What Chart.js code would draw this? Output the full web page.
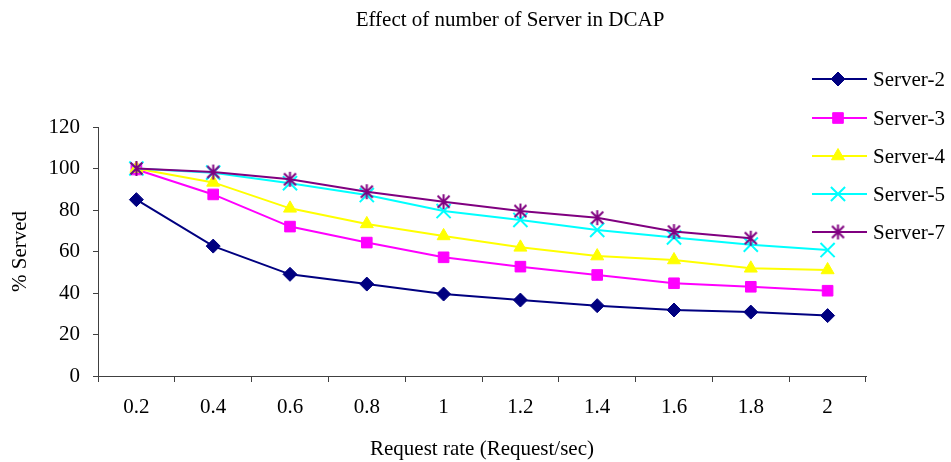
<!DOCTYPE html>
<html>
<head>
<meta charset="utf-8">
<script src="https://cdn.jsdelivr.net/npm/chart.js@4.4.0/dist/chart.umd.min.js"></script>
<style>
html,body{margin:0;padding:0;background:#ffffff;}
#wrap{width:951px;height:462px;position:relative;}
</style>
</head>
<body>
<div id="wrap"><canvas id="c" width="951" height="462"></canvas></div>
<script>
// ---- data ----
const categories = ['0.2', '0.4', '0.6', '0.8', '1', '1.2', '1.4', '1.6', '1.8', '2'];
const server2 = [85, 62.6, 49, 44.3, 39.5, 36.6, 33.9, 31.8, 30.8, 29.1];
const server3 = [99.5, 87.5, 72, 64.3, 57.2, 52.7, 48.7, 44.7, 43, 41.1];
const server4 = [100, 93.3, 80.8, 73.3, 67.5, 62, 57.8, 55.9, 51.9, 51.1];
const server5 = [100, 98, 92.9, 87.2, 79.5, 75.2, 70.4, 66.8, 63.3, 60.7];
const server7 = [100, 98.3, 94.8, 88.8, 84, 79.5, 76.3, 69.6, 66.4, null];
const seriesNames = ['Server-2', 'Server-3', 'Server-4', 'Server-5', 'Server-7'];
const yTicks = [0, 20, 40, 60, 80, 100, 120];
const chartTitle = 'Effect of number of Server in DCAP';
const xTitle = 'Request rate (Request/sec)';
const yTitle = '% Served';

const FONT = '"Liberation Serif", "Times New Roman", serif';
const AXIS = '#404040';

function makeAsterisk(color, r) {
  const s = Math.ceil(2 * r + 4);
  const c = document.createElement('canvas');
  c.width = s; c.height = s;
  const g = c.getContext('2d');
  g.strokeStyle = color; g.lineWidth = 2; g.lineCap = 'butt';
  const m = s / 2, d = r * 0.8;
  g.beginPath();
  g.moveTo(m, m - r); g.lineTo(m, m + r);
  g.moveTo(m - d, m - d); g.lineTo(m + d, m + d);
  g.moveTo(m + d, m - d); g.lineTo(m - d, m + d);
  g.stroke();
  return c;
}

const starImg = makeAsterisk('#800080', 7.5);

const datasets = [
  {label: seriesNames[0], data: server2, borderColor: '#000080', backgroundColor: '#000080',
   pointStyle: 'rectRot', pointRadius: 7, pointBorderWidth: 1, order: 5},
  {label: seriesNames[1], data: server3, borderColor: '#FF00FF', backgroundColor: '#FF00FF',
   pointStyle: 'rect', pointRadius: 7.5, pointBorderWidth: 1, order: 4},
  {label: seriesNames[2], data: server4, borderColor: '#FFFF00', backgroundColor: '#FFFF00',
   pointStyle: 'triangle', pointRadius: 7.5, pointBorderWidth: 1, order: 3},
  {label: seriesNames[3], data: server5, borderColor: '#00FFFF', backgroundColor: '#00FFFF',
   pointStyle: 'crossRot', pointRadius: 10, pointBorderWidth: 2, order: 2},
  {label: seriesNames[4], data: server7, borderColor: '#800080', backgroundColor: '#800080',
   pointStyle: starImg, pointRadius: 8, pointBorderWidth: 2, order: 1}
].map(d => Object.assign({borderWidth: 2, tension: 0, spanGaps: false, fill: false}, d));

const titleLegendPlugin = {
  id: 'titleLegend',
  afterDraw(chart) {
    const ctx = chart.ctx;
    ctx.save();
    ctx.fillStyle = '#000';
    ctx.font = '21px ' + FONT;
    ctx.textAlign = 'center';
    ctx.textBaseline = 'middle';
    ctx.fillText(chartTitle, 510, 20);

    const ys = [79, 118, 156, 194, 232];
    const x0 = 812, x1 = 867, xm = 838;
    chart.data.datasets.forEach((ds, i) => {
      const y = ys[i];
      ctx.strokeStyle = ds.borderColor;
      ctx.lineWidth = 2;
      ctx.beginPath(); ctx.moveTo(x0, y); ctx.lineTo(x1, y); ctx.stroke();
      ctx.fillStyle = ds.backgroundColor;
      ctx.strokeStyle = ds.borderColor;
      ctx.lineWidth = ds.pointBorderWidth;
      Chart.helpers.drawPoint(ctx, {pointStyle: ds.pointStyle, rotation: 0,
        radius: ds.pointRadius, borderWidth: ds.pointBorderWidth}, xm, y);
      ctx.fillStyle = '#000';
      ctx.font = '21px ' + FONT;
      ctx.textAlign = 'left';
      ctx.textBaseline = 'middle';
      ctx.fillText(ds.label, 873, y + 1);
    });
    ctx.restore();
  }
};

new Chart(document.getElementById('c'), {
  type: 'line',
  data: {labels: categories, datasets: datasets},
  plugins: [titleLegendPlugin],
  options: {
    responsive: false,
    animation: false,
    layout: {padding: {top: 127, right: 85, left: 0, bottom: 0}},
    plugins: {legend: {display: false}, title: {display: false}, tooltip: {enabled: false}},
    scales: {
      x: {
        type: 'category',
        offset: true,
        afterFit(s) { s.height = 86; },
        grid: {offset: true, drawOnChartArea: false, drawTicks: true, tickLength: 6, color: AXIS},
        border: {display: true, color: AXIS, width: 1},
        ticks: {color: '#000', font: {family: FONT, size: 21}, padding: 13, maxRotation: 0, autoSkip: false},
        title: {display: true, text: xTitle, color: '#000', font: {family: FONT, size: 21}, padding: {top: 0, bottom: 0}}
      },
      y: {
        min: 0, max: 120,
        afterFit(s) { s.width = 98; },
        afterBuildTicks(s) { s.ticks = yTicks.map(v => ({value: v})); },
        grid: {drawOnChartArea: false, drawTicks: true, tickLength: 5, color: AXIS},
        border: {display: true, color: AXIS, width: 1},
        ticks: {color: '#000', font: {family: FONT, size: 21}, padding: 13},
        title: {display: true, text: yTitle, color: '#000', font: {family: FONT, size: 21}, padding: {top: 8, bottom: 0}}
      }
    }
  }
});
</script>
</body>
</html>
